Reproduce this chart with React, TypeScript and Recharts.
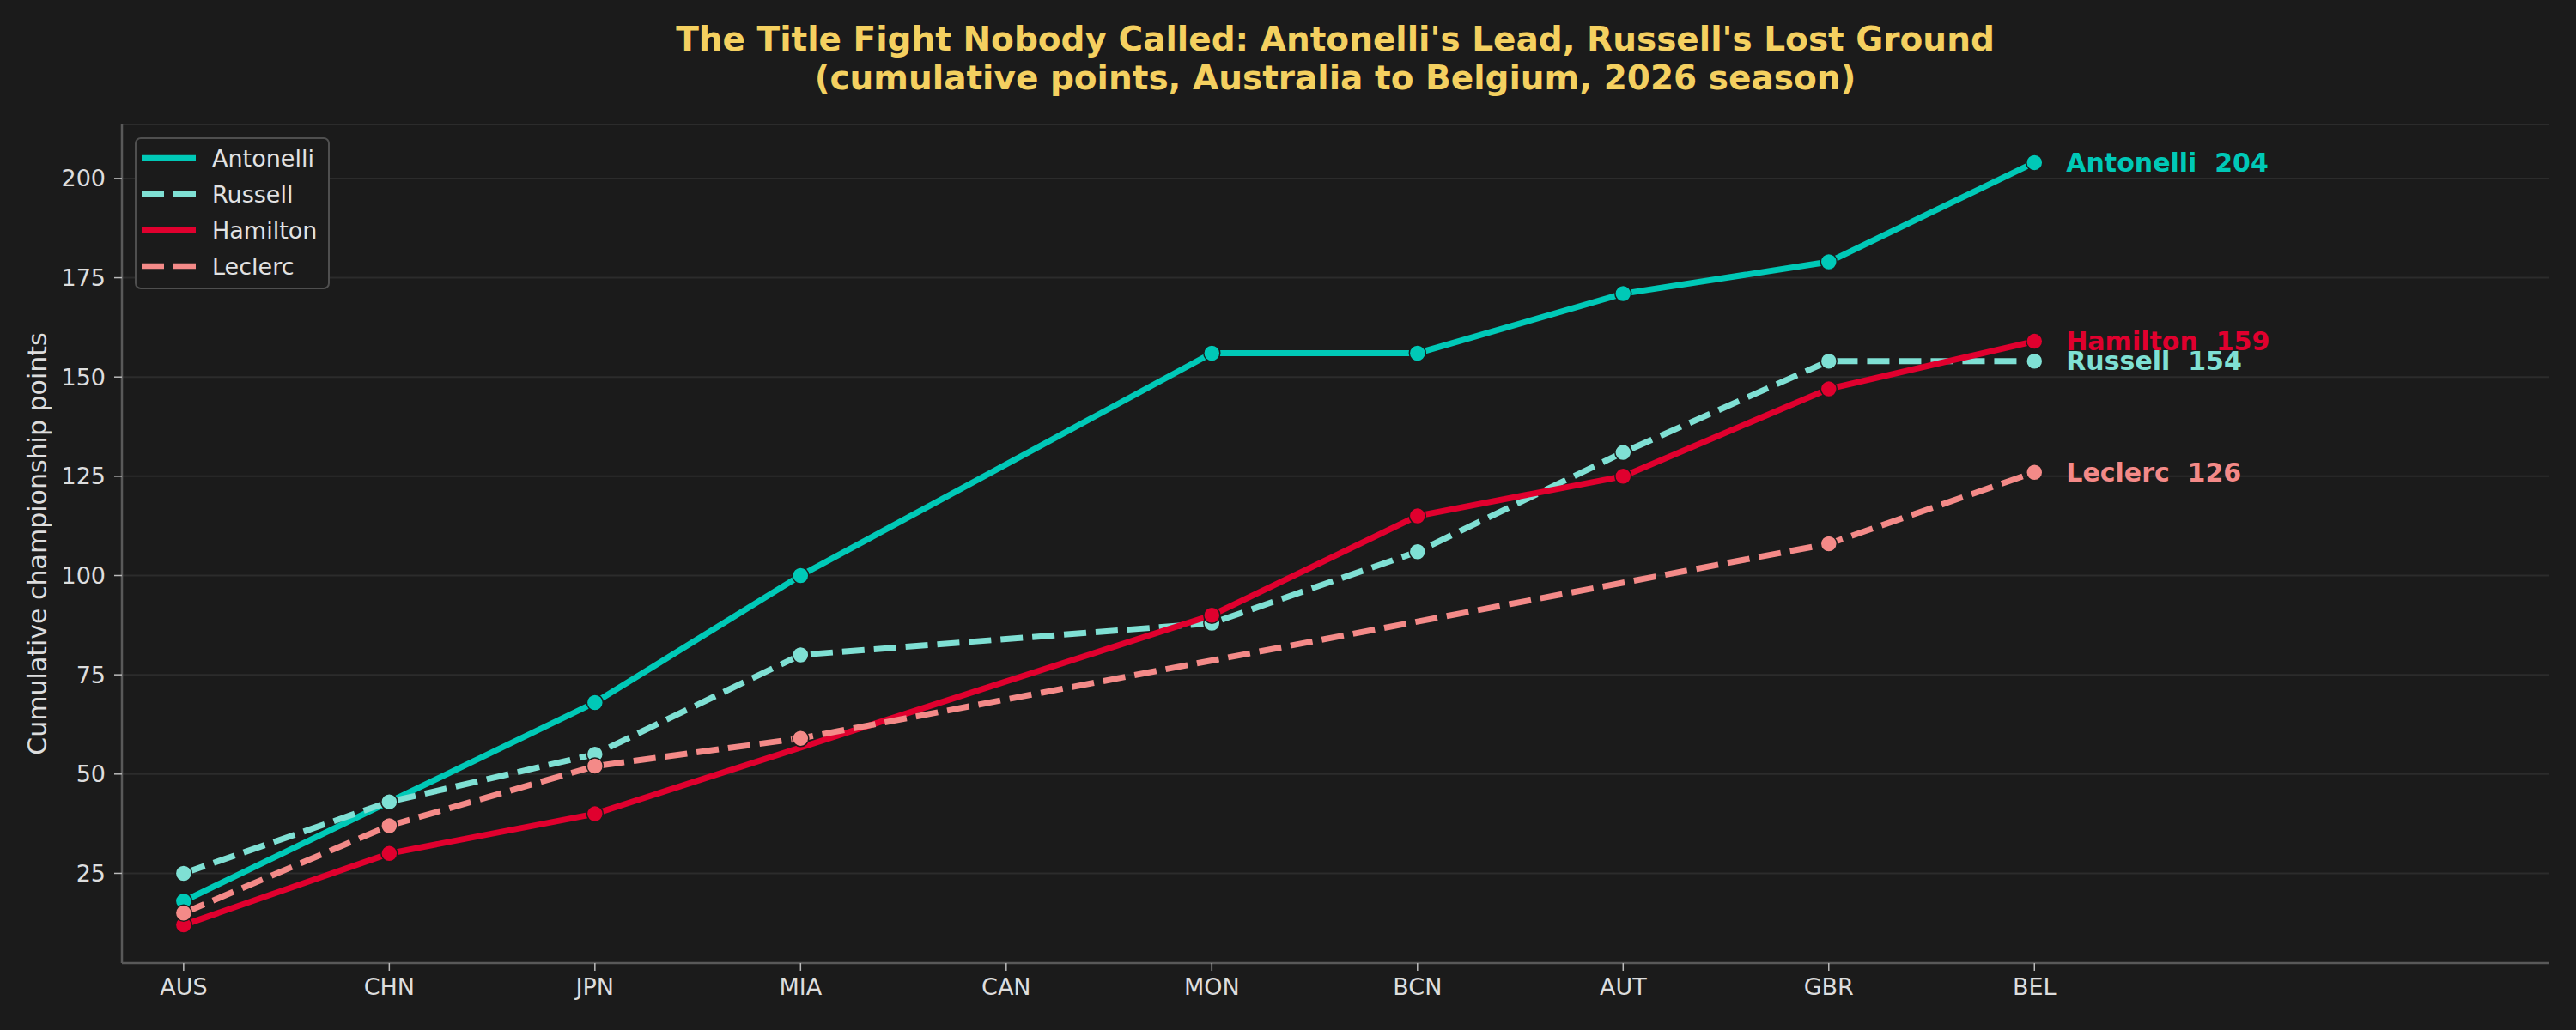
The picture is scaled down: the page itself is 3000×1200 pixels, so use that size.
import { LineChart, Line, XAxis, YAxis, CartesianGrid, Legend } from "recharts";

const races = ["AUS", "CHN", "JPN", "MIA", "CAN", "MON", "BCN", "AUT", "GBR", "BEL"];
const antonelli = [18, 43, 68, 100, null, 156, 156, 171, 179, 204];
const russell = [25, 43, 55, 80, null, 88, 106, 131, 154, 154];
const hamilton = [12, 30, 40, null, null, 90, 115, 125, 147, 159];
const leclerc = [15, 37, 52, 59, null, null, null, null, 108, 126];
const yTicks = [25, 50, 75, 100, 125, 150, 175, 200];

const drivers = [
  { name: "Antonelli", values: antonelli, color: "#00c9b7", dashed: false },
  { name: "Russell", values: russell, color: "#7fe0d4", dashed: true },
  { name: "Hamilton", values: hamilton, color: "#e0002e", dashed: false },
  { name: "Leclerc", values: leclerc, color: "#f48a88", dashed: true },
];

const data = races.map((race, i) => {
  const row: Record<string, any> = { x: i, race };
  drivers.forEach((d) => (row[d.name] = d.values[i]));
  return row;
});

const BG = "#1b1b1b";
const FONT = "'DejaVu Sans', sans-serif";
const DASH = "26 11";

function endLabel(name: string, color: string, last: number) {
  return (props: any) => {
    const { x, y, index, value } = props;
    if (index !== last || value == null) return null;
    return (
      <text
        x={x + 37}
        y={y}
        fill={color}
        fontSize={30}
        fontWeight="bold"
        fontFamily={FONT}
        dominantBaseline="central"
        style={{ whiteSpace: "pre" }}
      >
        {`${name}  ${value}`}
      </text>
    );
  };
}

function LegendBox() {
  return (
    <div
      style={{
        width: 223,
        border: "2px solid #4f4f4f",
        borderRadius: 7,
        background: BG,
        padding: "1px 0 4px 0",
        fontFamily: FONT,
      }}
    >
      {drivers.map((d) => (
        <div key={d.name} style={{ display: "flex", alignItems: "center", height: 42 }}>
          <svg width={63} height={10} style={{ marginLeft: 6, marginRight: 19 }}>
            <line
              x1={0}
              y1={5}
              x2={63}
              y2={5}
              stroke={d.color}
              strokeWidth={6.5}
              strokeDasharray={d.dashed ? DASH : undefined}
            />
          </svg>
          <span style={{ color: "#e2e2e2", fontSize: 27 }}>{d.name}</span>
        </div>
      ))}
    </div>
  );
}

export default function App() {
  const last = races.length - 1;
  return (
    <div
      style={{
        position: "absolute",
        left: 0,
        top: 0,
        width: 3000,
        height: 1200,
        background: BG,
        fontFamily: FONT,
      }}
    >
      <div
        style={{
          position: "absolute",
          left: 0,
          width: 3110,
          top: 23,
          textAlign: "center",
          color: "#f4d060",
          fontWeight: "bold",
          fontSize: 39,
          lineHeight: "45px",
        }}
      >
        <div>The Title Fight Nobody Called: Antonelli's Lead, Russell's Lost Ground</div>
        <div>(cumulative points, Australia to Belgium, 2026 season)</div>
      </div>
      <LineChart
        width={3000}
        height={1200}
        data={data}
        margin={{ top: 145, right: 32, bottom: 0, left: 0 }}
      >
        <CartesianGrid vertical={false} stroke="#2c2c2c" strokeWidth={2} />
        <XAxis
          dataKey="x"
          type="number"
          domain={[-0.3, 11.5]}
          ticks={races.map((_, i) => i)}
          tickFormatter={(i: number) => races[i]}
          allowDataOverflow
          height={78}
          tickSize={9}
          tickMargin={9}
          axisLine={{ stroke: "#595959", strokeWidth: 2.5 }}
          tickLine={{ stroke: "#bbbbbb", strokeWidth: 1.5 }}
          tick={{ fill: "#dddddd", fontSize: 27, fontFamily: FONT }}
        />
        <YAxis
          type="number"
          domain={[2.4, 213.6]}
          ticks={yTicks}
          allowDataOverflow
          width={142}
          tickSize={9}
          tickMargin={10}
          axisLine={{ stroke: "#595959", strokeWidth: 2.5 }}
          tickLine={{ stroke: "#bbbbbb", strokeWidth: 1.5 }}
          tick={{ fill: "#dddddd", fontSize: 27, fontFamily: FONT }}
          label={(p: any) => {
            const vb = p.viewBox;
            const cy = vb.y + vb.height / 2;
            return (
              <text
                x={43}
                y={cy}
                transform={`rotate(-90, 43, ${cy})`}
                textAnchor="middle"
                dominantBaseline="central"
                fill="#dddddd"
                fontSize={30}
                fontFamily={FONT}
              >
                Cumulative championship points
              </text>
            );
          }}
        />
        <Legend
          layout="horizontal"
          align="center"
          verticalAlign="middle"
          content={() => <LegendBox />}
          wrapperStyle={{ left: 157, top: 160, width: 227, height: 175 }}
        />
        {drivers.map((d) => (
          <Line
            key={d.name}
            dataKey={d.name}
            type="linear"
            connectNulls
            stroke={d.color}
            strokeWidth={7}
            strokeDasharray={d.dashed ? DASH : undefined}
            dot={{ r: 9.5, fill: d.color, stroke: BG, strokeWidth: 1.5, strokeDasharray: "" }}
            activeDot={false}
            isAnimationActive={false}
            label={endLabel(d.name, d.color, last)}
          />
        ))}
      </LineChart>
    </div>
  );
}
